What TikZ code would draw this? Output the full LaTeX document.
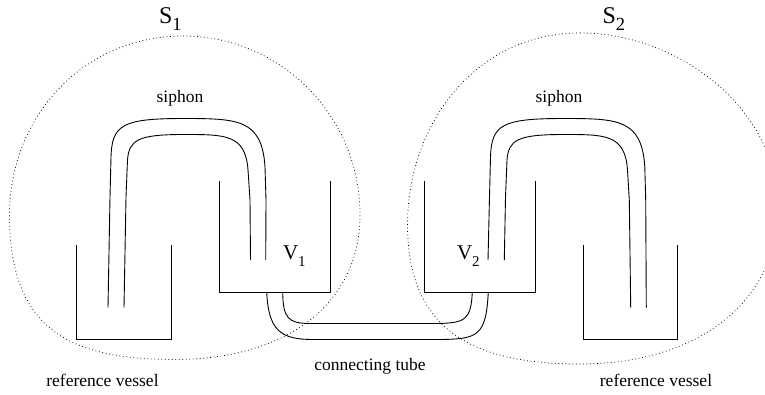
\documentclass[tikz,border=0pt]{standalone}
\usepackage{fontspec}
\setmainfont{Liberation Serif}
\newcommand{\lblfont}{\fontsize{17.5}{20}\selectfont}
\tikzset{
  wall/.style={draw=black,line width=0.9pt,line join=miter},
  tube/.style={draw=black,line width=0.9pt,line join=round},
  surface/.style={draw=black,line width=0.75pt,dash pattern=on 0.8pt off 2.7pt},
  lbl/.style={inner sep=0pt,outer sep=0pt,anchor=base,font=\lblfont},
  sym/.style={inner sep=0pt,outer sep=0pt,anchor=base west}
}
\begin{document}
\begin{tikzpicture}[x=1pt,y=-1pt]
\clip (0,0) rectangle (765,394);
\fill[white] (0,0) rectangle (765,394);
% control surfaces
\draw[surface] (183,36) .. controls (280,36) and (360,115) .. (360,215)
  .. controls (360,305) and (285,359.5) .. (175,359.5)
  .. controls (70,359.5) and (9.5,330) .. (9.5,215)
  .. controls (9.5,115) and (85,36) .. (183,36) -- cycle;
\draw[surface] (580,33) .. controls (680,33) and (778,110) .. (778,208)
  .. controls (778,300) and (700,364) .. (580,364)
  .. controls (480,364) and (407.5,335) .. (407.5,225)
  .. controls (407.5,125) and (475,33) .. (580,33) -- cycle;
% vessels
\draw[wall] (76.5,244.5) -- (76.5,339.5) -- (171.5,339.5) -- (171.5,244.5);
\draw[wall] (219,181) -- (219,292) -- (330,292) -- (330,181);
\draw[wall] (424.7,181) -- (424.7,292) -- (535.3,292) -- (535.3,181);
\draw[wall] (583,244.5) -- (583,339.5) -- (677.7,339.5) -- (677.7,244.5);
% left siphon
\draw[tube] (108,307.5) -- (110,197) -- (111,157) .. controls (112,125) and (122,118.5) .. (183,118.5) .. controls (238,118.5) and (262,119) .. (265,167) -- (266,200) -- (265.7,260);
\draw[tube] (124,307.5) -- (126,197) -- (127.5,160) .. controls (129,140) and (138,134.5) .. (183,134.5) .. controls (225,134.5) and (245.5,134) .. (248,170) -- (250,200) -- (250.5,260);
% right siphon
\draw[tube] (488,260) -- (489.5,197) -- (490.5,157) .. controls (491.5,125) and (501.5,118.5) .. (563,118.5) .. controls (618,118.5) and (641.8,119) .. (644.8,167) -- (645.7,200) -- (646.3,307.5);
\draw[tube] (504.3,260) -- (505.5,197) -- (507,160) .. controls (508.5,140) and (517.5,134.5) .. (563,134.5) .. controls (605,134.5) and (625,134) .. (627.5,170) -- (629.3,200) -- (630.7,307.5);
% connecting tube
\draw[tube] (266.7,292) .. controls (268.5,330) and (280,339.5) .. (313,339.5) -- (440,339.5) .. controls (478,339) and (486,336) .. (488.3,292);
\draw[tube] (282.7,292) .. controls (283,318) and (288,323.5) .. (310,323.5) -- (437,323.5) .. controls (465,323) and (471,320) .. (472.3,292);
% labels
\node[lbl] (sip1) at (180,102.7) {siphon};
\node[lbl] (sip2) at (559,102.7) {siphon};
\node[lbl] (ref1) at (102.5,386.7) {reference vessel};
\node[lbl] (ref2) at (656,386.7) {reference vessel};
\node[lbl] (conn) at (370,370.7) {connecting tube};
\node[sym] (s1) at (159,23) {\fontsize{24}{24}\selectfont S\raisebox{-7pt}{\fontsize{18.5}{18.5}\selectfont 1}};
\node[sym] (s2) at (602.5,23) {\fontsize{24}{24}\selectfont S\raisebox{-7pt}{\fontsize{18.5}{18.5}\selectfont 2}};
\node[sym] (v1) at (283,259.7) {\fontsize{21}{21}\selectfont V\raisebox{-6.3pt}{\fontsize{15}{15}\selectfont 1}};
\node[sym] (v2) at (457,259.7) {\fontsize{21}{21}\selectfont V\raisebox{-6.3pt}{\fontsize{15}{15}\selectfont 2}};
\end{tikzpicture}
\end{document}
